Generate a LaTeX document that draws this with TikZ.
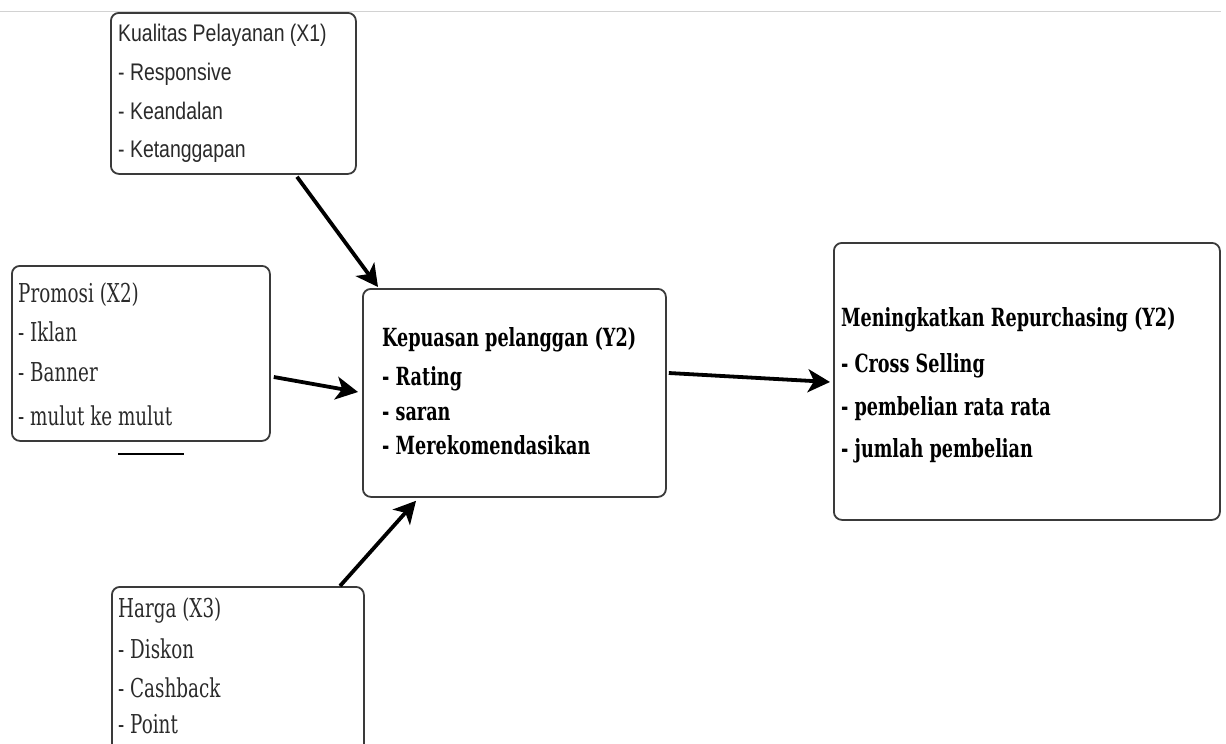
\documentclass[tikz,border=0pt]{standalone}
\usepackage{fontspec}
\usetikzlibrary{arrows.meta}
\newfontfamily\serifc[FakeStretch=0.705]{DejaVu Serif}
\newfontfamily\sansc[FakeStretch=0.81]{Liberation Sans}
\definecolor{boxline}{HTML}{3A3A3A}
\definecolor{txtgray}{HTML}{2A2A2A}
\tikzset{
  box/.style={draw=boxline, line width=1.8pt, rounded corners=8pt, anchor=north west, inner sep=0pt},
  arr/.style={line width=3.8pt, -{Stealth[length=22pt,width=23pt,inset=6pt]}, black},
  lbl/.style={anchor=base west, inner sep=0pt, text=txtgray},
  sanslbl/.style={lbl, font=\sansc\fontsize{24}{27}\selectfont},
  seriflbl/.style={lbl, font=\serifc\fontsize{26}{29}\selectfont},
  boldlbl/.style={lbl, text=black, font=\serifc\bfseries\fontsize{25}{28}\selectfont}
}
\begin{document}
\begin{tikzpicture}[x=1pt,y=-1pt]
\useasboundingbox (0,0) rectangle (1226,744);
\clip (0,0) rectangle (1226,744);
\fill[white] (0,0) rectangle (1226,744);
\draw[gray!35, line width=1.5pt] (0,11.5) -- (1221,11.5);

% boxes
\node[box, minimum width=245pt, minimum height=161pt] (x1) at (110,12) {};
\node[box, minimum width=258pt, minimum height=175pt] (x2) at (11,265) {};
\node[box, minimum width=303pt, minimum height=208pt] (y) at (362,288) {};
\node[box, minimum width=386pt, minimum height=277pt] (r) at (833,242) {};
\node[box, minimum width=252pt, minimum height=185pt] (x3) at (111,586) {};

% texts
\foreach \t/\yy [count=\i] in {Kualitas Pelayanan (X1)/41, - Responsive/80, - Keandalan/119, - Ketanggapan/157}
  \node[sanslbl] (x1t\i) at (118,\yy) {\t};
\foreach \t/\yy [count=\i] in {Promosi (X2)/302, - Iklan/341, - Banner/381, - mulut ke mulut/425}
  \node[seriflbl] (x2t\i) at (18,\yy) {\t};
\foreach \t/\yy [count=\i] in {Kepuasan pelanggan (Y2)/346, - Rating/385, - saran/420, - Merekomendasikan/454}
  \node[boldlbl] (yt\i) at (382,\yy) {\t};
\foreach \t/\yy [count=\i] in {Meningkatkan Repurchasing (Y2)/326, - Cross Selling/372, - pembelian rata rata/415, - jumlah pembelian/457}
  \node[boldlbl] (rt\i) at (841,\yy) {\t};
\foreach \t/\yy [count=\i] in {Harga (X3)/617, - Diskon/658, - Cashback/697, - Point/733}
  \node[seriflbl] (x3t\i) at (118,\yy) {\t};

% connectors
\draw[arr] ([xshift=187pt,yshift=-2pt]x1.south west) -- ([xshift=16pt,yshift=1pt]y.north west);
\draw[arr] ([yshift=-112pt,xshift=3pt]x2.north east) -- ([yshift=-104pt,xshift=-4pt]y.north west);
\draw[arr] ([xshift=229pt]x3.north west) -- ([xshift=54pt,yshift=-3pt]y.south west);
\draw[arr] ([yshift=-85pt,xshift=2pt]y.north east) -- ([yshift=-140pt,xshift=-3pt]r.north west);

% short line below Promosi box
\coordinate (ula) at (118,454);
\coordinate (ulb) at (184,454);
\draw[black, line width=1.8pt] (ula) -- (ulb);
\end{tikzpicture}
\end{document}
